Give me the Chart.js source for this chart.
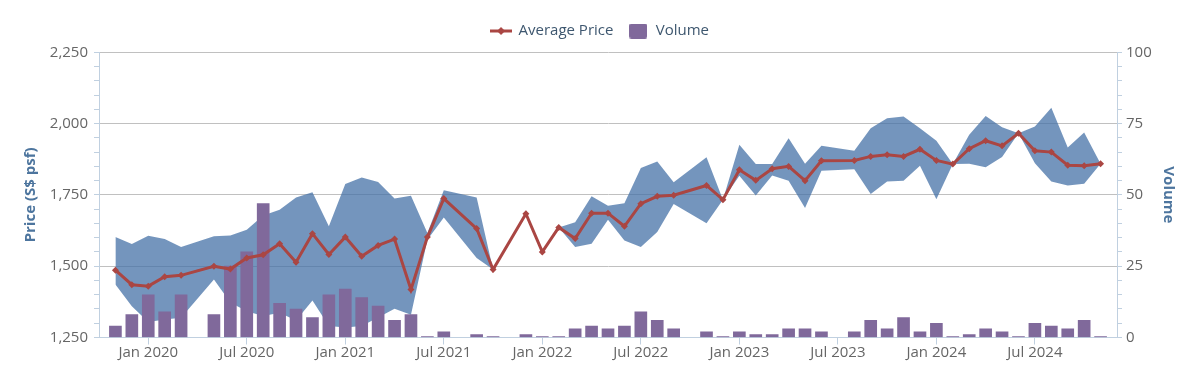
<!DOCTYPE html>
<html>
<head>
<meta charset="utf-8">
<script src="https://cdn.jsdelivr.net/npm/chart.js@4.4.0/dist/chart.umd.min.js"></script>
<style>
html,body{margin:0;padding:0;background:#fff;}
#wrap{width:1200px;height:379px;position:relative;}
</style>
</head>
<body>
<div id="wrap"><canvas id="c"></canvas></div>
<script>
const months = [
 "Oct 2019","Nov 2019","Dec 2019",
 "Jan 2020","Feb 2020","Mar 2020","Apr 2020","May 2020","Jun 2020","Jul 2020","Aug 2020","Sep 2020","Oct 2020","Nov 2020","Dec 2020",
 "Jan 2021","Feb 2021","Mar 2021","Apr 2021","May 2021","Jun 2021","Jul 2021","Aug 2021","Sep 2021","Oct 2021","Nov 2021","Dec 2021",
 "Jan 2022","Feb 2022","Mar 2022","Apr 2022","May 2022","Jun 2022","Jul 2022","Aug 2022","Sep 2022","Oct 2022","Nov 2022","Dec 2022",
 "Jan 2023","Feb 2023","Mar 2023","Apr 2023","May 2023","Jun 2023","Jul 2023","Aug 2023","Sep 2023","Oct 2023","Nov 2023","Dec 2023",
 "Jan 2024","Feb 2024","Mar 2024","Apr 2024","May 2024","Jun 2024","Jul 2024","Aug 2024","Sep 2024","Oct 2024","Nov 2024","Dec 2024"
];
const avgPrice = [
 null,1486,1435,
 1430,1463,1468,null,1500,1490,1529,1540,1579,1514,1614,1541,
 1602,1535,1573,1595,1418,1602,1737,null,1632,1488,null,1684,
 1550,1636,1597,1686,1686,1640,1719,1745,1749,null,1783,1733,
 1838,1801,1842,1850,1800,1870,null,1871,1885,1891,1885,1910,
 1871,1858,1912,1940,1922,1966,1905,1900,1854,1852,1859,null
];
const minPrice = [
 null,1436,1360,
 1304,1313,1319,null,1453,1373,1342,1325,1337,1310,1380,1290,
 1285,1290,1320,1351,1330,1593,1671,null,1529,1488,null,1684,
 1550,1636,1567,1579,1663,1590,1567,1620,1718,null,1651,1733,
 1817,1748,1818,1800,1704,1835,null,1840,1753,1797,1800,1852,
 1735,1858,1859,1847,1883,1966,1861,1797,1783,1789,1859,null
];
const maxPrice = [
 null,1602,1578,
 1607,1595,1567,null,1605,1608,1628,1678,1698,1741,1759,1640,
 1788,1811,1795,1737,1747,1616,1766,null,1741,1488,null,1684,
 1550,1636,1654,1745,1712,1721,1844,1867,1794,null,1882,1733,
 1926,1858,1858,1949,1859,1922,null,1905,1984,2019,2025,1984,
 1940,1858,1961,2027,1987,1966,1990,2056,1916,1969,1859,null
];
const volume = [
 null,4,8,
 15,9,15,null,8,25,30,47,12,10,7,15,
 17,14,11,6,8,0.3,2,null,1,0.3,null,1,
 0.3,0.3,3,4,3,4,9,6,3,null,2,0.3,
 2,1,1,3,3,2,null,2,6,3,7,2,
 5,0.3,1,3,2,0.3,5,4,3,6,0.3,null
];
const priceTicks = [1250,1500,1750,2000,2250];
const volumeTicks = [0,25,50,75,100];

const FONT = "'Open Sans', 'DejaVu Sans', sans-serif";
const RED = '#AA4643', PURPLE = '#80699B';
const AXIS = '#C0D0E0', GRID = '#C0C0C0';

function lineIcon(){
  const c = document.createElement('canvas'); c.width = 22; c.height = 10;
  const g = c.getContext('2d');
  g.strokeStyle = RED; g.lineWidth = 3;
  g.beginPath(); g.moveTo(0,5); g.lineTo(22,5); g.stroke();
  g.fillStyle = RED; g.beginPath();
  g.moveTo(11,1); g.lineTo(15,5); g.lineTo(11,9); g.lineTo(7,5); g.closePath(); g.fill();
  return c;
}
function boxIcon(){
  const c = document.createElement('canvas'); c.width = 18; c.height = 15;
  const g = c.getContext('2d');
  g.fillStyle = PURPLE; g.beginPath();
  if (g.roundRect) g.roundRect(0,0,18,15,2); else g.rect(0,0,18,15);
  g.fill();
  return c;
}
const icons = [lineIcon(), boxIcon()];

const isMajorX = (i) => /^(Jan|Jul) (2020|2021|2022|2023|2024)$/.test(months[i]);

const legendHeightFix = {
  id: 'legendHeightFix',
  afterInit(chart) {
    const lg = chart.legend;
    if (lg) {
      const origFit = lg.fit;
      lg.fit = function(){ origFit.call(this); this.height = 43.6; };
    }
  }
};

new Chart(document.getElementById('c'), {
  type: 'bar',
  plugins: [legendHeightFix],
  data: {
    labels: months,
    datasets: [
      {
        type: 'line', label: 'Average Price', data: avgPrice, yAxisID: 'y',
        borderColor: RED, backgroundColor: RED, borderWidth: 3,
        pointStyle: 'rectRot', pointRadius: 3.5, pointBackgroundColor: RED, pointBorderWidth: 0,
        spanGaps: true, tension: 0, fill: false, order: 0
      },
      {
        type: 'bar', label: 'Volume', data: volume, yAxisID: 'y1',
        backgroundColor: PURPLE, borderWidth: 0, barThickness: 12, order: 1
      },
      {
        type: 'line', label: 'Max', data: maxPrice, yAxisID: 'y',
        borderWidth: 0, pointRadius: 0, spanGaps: true, tension: 0,
        backgroundColor: 'rgba(69,114,167,0.75)', borderColor: 'rgba(0,0,0,0)',
        fill: '+1', order: 3
      },
      {
        type: 'line', label: 'Min', data: minPrice, yAxisID: 'y',
        borderWidth: 0, pointRadius: 0, spanGaps: true, tension: 0,
        borderColor: 'rgba(0,0,0,0)', fill: false, order: 3
      }
    ]
  },
  options: {
    responsive: true, maintainAspectRatio: false, animation: false,
    devicePixelRatio: 1,
    layout: { padding: { top: 8.7, left: 0, right: 0, bottom: 0 } },
    plugins: {
      tooltip: { enabled: false },
      legend: {
        position: 'top', align: 'center',
        labels: {
          filter: (item) => item.datasetIndex < 2,
          usePointStyle: true, pointStyleWidth: 20, padding: 14.8,
          color: '#3E576F', font: { family: FONT, size: 15 },
          generateLabels: (chart) => {
            const base = Chart.defaults.plugins.legend.labels.generateLabels(chart);
            return base.filter(l => l.datasetIndex < 2).map(l => Object.assign(l, { pointStyle: icons[l.datasetIndex], lineWidth: 0 }));
          }
        }
      }
    },
    scales: {
      x: {
        offset: false,
        grid: { offset: false, drawOnChartArea: false, tickLength: 7,
          tickColor: (ctx) => isMajorX(ctx.index) ? AXIS : 'rgba(0,0,0,0)' },
        border: { color: AXIS, width: 1 },
        ticks: {
          autoSkip: false, maxRotation: 0, minRotation: 0, padding: -1,
          color: '#666', font: { family: FONT, size: 15 },
          callback: function(v, i){ return isMajorX(i) ? months[i] : ''; }
        },
        afterFit: (s) => { s.height = 41.5; }
      },
      y: {
        position: 'left', min: priceTicks[0], max: priceTicks[priceTicks.length-1],
        ticks: {
          stepSize: 50, autoSkip: false, padding: 6, color: '#666', font: { family: FONT, size: 15 },
          callback: (v) => priceTicks.includes(v) ? v.toLocaleString('en-US') : ''
        },
        grid: { drawOnChartArea: true, tickLength: 5,
          color: (ctx) => (ctx.tick && priceTicks.includes(ctx.tick.value)) ? GRID : 'rgba(0,0,0,0)',
          tickColor: AXIS },
        border: { color: AXIS, width: 1 },
        title: { display: true, text: 'Price (S$ psf)', color: '#4D759E',
          font: { family: FONT, size: 15, weight: 'bold' }, padding: { top: 22, bottom: 0 } },
        afterFit: (s) => { s.width = 99; }
      },
      y1: {
        position: 'right', min: volumeTicks[0], max: volumeTicks[volumeTicks.length-1],
        ticks: {
          stepSize: 5, autoSkip: false, padding: 4, color: '#666', font: { family: FONT, size: 15 },
          callback: (v) => volumeTicks.includes(v) ? String(v) : ''
        },
        grid: { drawOnChartArea: false, tickLength: 5, tickColor: AXIS, color: AXIS },
        border: { color: AXIS, width: 1 },
        title: { display: true, text: 'Volume', color: '#4D759E',
          font: { family: FONT, size: 15, weight: 'bold' }, padding: { top: 23, bottom: 0 } },
        afterFit: (s) => { s.width = 83; }
      }
    }
  }
});
</script>
</body>
</html>
